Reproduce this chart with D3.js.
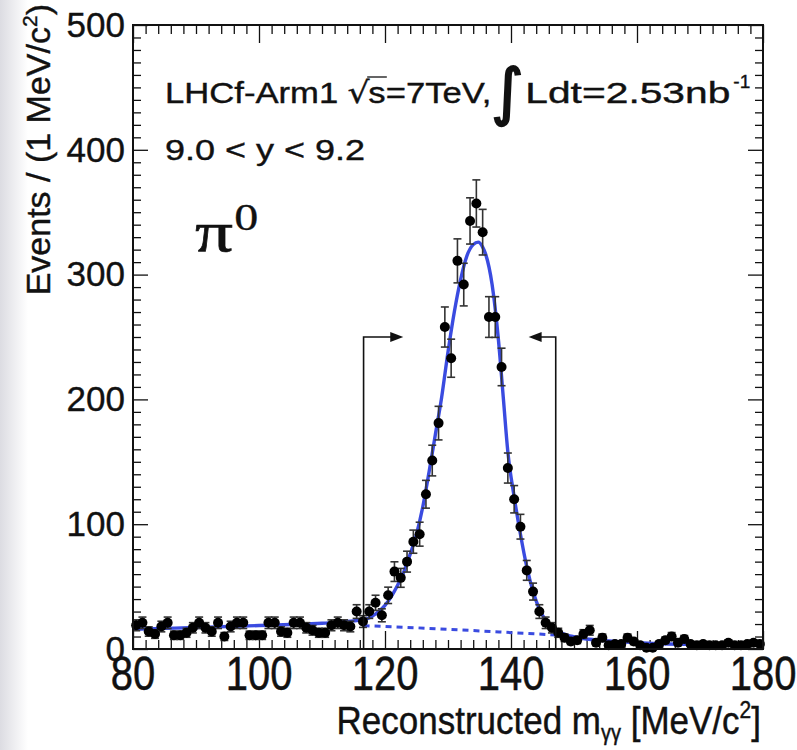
<!DOCTYPE html>
<html>
<head>
<meta charset="utf-8">
<script src="https://cdn.jsdelivr.net/npm/d3@7"></script>
<style>
  body { margin: 0; background: #fff; }
  svg { display: block; font-family: "Liberation Sans", Arial, Helvetica, sans-serif; }
</style>
</head>
<body>
<script>
// ---- data ----
// 1 MeV bins from 80 to 180, bin centres
const binCenters = d3.range(80.5, 180, 1);
// events per bin
const counts = [
  19, 21, 14, 12, 18, 21, 11, 11, 13, 17,   // 80-90
  21, 17, 14, 21, 10, 18, 21, 21, 11, 11,   // 90-100
  11, 21, 21, 14, 13, 21, 21, 17, 15, 13,   // 100-110
  13, 19, 21, 19, 18, 30, 22, 30, 37, 27,   // 110-120
  43, 62, 57, 70, 86, 92, 124, 151, 181, 258, // 120-130
  233, 311, 292, 343, 357, 334, 266, 266, 226, 145, // 130-140
  120, 98, 63, 46, 30, 21, 17, 13, 9, 6,    // 140-150
  7, 12, 15, 5, 9, 3, 4, 4, 9, 6,           // 150-160
  3, 1, 1, 4, 7, 10, 5, 8, 4, 3,            // 160-170
  4, 3, 3, 3, 5, 3, 3, 4, 5, 4              // 170-180
];
// total fit (signal + background)
const fitMass = [80, 85, 90, 95, 100, 105, 110, 113, 115, 117, 119, 120, 121, 122, 123, 124, 125, 126, 127, 128, 129, 130, 131, 132, 133, 134, 134.8, 135.5, 136, 137, 138, 138.8, 139.5, 140.5, 141.5, 142.5, 143.5, 144.5, 145.5, 146.5, 147.5, 149, 150, 152, 155, 160, 165, 170, 175, 180];
const fitValue = [15.8, 16.5, 17.2, 18, 18.8, 19.6, 20.6, 21.5, 22.5, 24, 30, 35, 42, 51, 62, 76, 92, 114, 142, 172, 202, 238, 270, 296, 315, 324, 326, 322, 316, 292, 248, 200, 158, 122, 92, 66, 46, 32, 23, 17, 14, 11, 9.8, 8, 6.7, 5, 4, 3.7, 3.5, 3.5];
// background component, drawn dotted inside the mass window
const bgMass = [116.6, 125, 135, 147.1];
const bgValue = [18.7, 17, 14.5, 11.2];
// signal window and arrows
const windowEdges = [116.6, 147.1];
const arrowLengths = [6.3, 4.3];
const arrowLevel = 250;

const xTicks = [80, 100, 120, 140, 160, 180];
const yTicks = [0, 100, 200, 300, 400, 500];

// ---- layout ----
const W = 797, H = 750;
const pLeft = 133, pRight = 763, pTop = 25, pBottom = 649;
const blue = "#3a4be0";
const ink = "#111";
const sans = "'Liberation Sans', Arial, Helvetica, sans-serif";
const serif = "'Liberation Serif', 'Times New Roman', serif";

const svg = d3.select("body").append("svg").attr("width", W).attr("height", H);

// faint grey strip on the left edge of the original scan
const grad = svg.append("defs").append("linearGradient").attr("id", "edge");
grad.append("stop").attr("offset", "0%").attr("stop-color", "#dcdce2");
grad.append("stop").attr("offset", "100%").attr("stop-color", "#ffffff");
svg.append("rect").attr("x", 0).attr("y", 0).attr("width", 28).attr("height", H).attr("fill", "url(#edge)");

const x = d3.scaleLinear().domain([80, 180]).range([pLeft, pRight]);
const y = d3.scaleLinear().domain([0, 500]).range([pBottom, pTop]);

// ---- axes (ROOT style, ticks inside on all four sides) ----
function tickAxis(axisFn, scale, values, size, tx, ty) {
  const g = svg.append("g").attr("transform", `translate(${tx},${ty})`)
    .call(axisFn(scale).tickValues(values).tickSize(-size).tickFormat(""));
  g.select(".domain").remove();
  g.selectAll(".tick line").attr("stroke", ink).attr("stroke-width", 1.3);
  return g;
}
const xMinor = d3.range(80, 181, 2).filter(v => v % 20 !== 0);
const yMinor = d3.range(0, 501, 10).filter(v => v % 100 !== 0);

tickAxis(d3.axisBottom, x, xTicks, 18, 0, pBottom);
tickAxis(d3.axisBottom, x, xMinor, 9, 0, pBottom);
tickAxis(d3.axisTop, x, xTicks, 18, 0, pTop);
tickAxis(d3.axisTop, x, xMinor, 9, 0, pTop);
tickAxis(d3.axisLeft, y, yTicks, 15, pLeft, 0);
tickAxis(d3.axisLeft, y, yMinor, 8, pLeft, 0);
tickAxis(d3.axisRight, y, yTicks, 15, pRight, 0);
tickAxis(d3.axisRight, y, yMinor, 8, pRight, 0);

// x tick labels (a little taller than wide in the scan)
svg.append("g").selectAll("text").data(xTicks).join("text")
  .attr("transform", d => `translate(${x(d)},690) scale(1,1.2)`)
  .attr("text-anchor", "middle").attr("font-size", 40).attr("font-family", sans)
  .attr("fill", ink).attr("stroke", ink).attr("stroke-width", 0.4)
  .text(d => d);

const yLab = svg.append("g").attr("transform", `translate(${pLeft},0)`)
  .call(d3.axisLeft(y).tickValues(yTicks).tickSize(0).tickPadding(8).tickFormat(d3.format("d")));
yLab.select(".domain").remove();
yLab.selectAll("text").attr("font-size", 35).attr("fill", ink).attr("font-family", sans)
  .attr("stroke", ink).attr("stroke-width", 0.4);

// ---- fit curve ----
const line = d3.line().x(d => x(d[0])).y(d => y(d[1])).curve(d3.curveMonotoneX);
svg.append("path")
  .datum(fitMass.map((m, i) => [m, fitValue[i]]))
  .attr("d", line).attr("fill", "none").attr("stroke", blue).attr("stroke-width", 3.4);

svg.append("path")
  .datum(bgMass.map((m, i) => [m, bgValue[i]]))
  .attr("d", line).attr("fill", "none").attr("stroke", blue).attr("stroke-width", 3)
  .attr("stroke-dasharray", "6,5");

// ---- data points with sqrt(N) error bars ----
const pts = binCenters.map((m, i) => ({ m: m, n: counts[i], e: Math.sqrt(counts[i]) }));
const pg = svg.append("g");
pg.selectAll("line.err").data(pts).join("line").attr("class", "err")
  .attr("x1", d => x(d.m)).attr("x2", d => x(d.m))
  .attr("y1", d => y(d.n - d.e)).attr("y2", d => y(d.n + d.e))
  .attr("stroke", "#333").attr("stroke-width", 1.6);
pg.selectAll("line.capHi").data(pts).join("line").attr("class", "capHi")
  .attr("x1", d => x(d.m) - 4).attr("x2", d => x(d.m) + 4)
  .attr("y1", d => y(d.n + d.e)).attr("y2", d => y(d.n + d.e))
  .attr("stroke", "#333").attr("stroke-width", 1.6);
pg.selectAll("line.capLo").data(pts).join("line").attr("class", "capLo")
  .attr("x1", d => x(d.m) - 4).attr("x2", d => x(d.m) + 4)
  .attr("y1", d => y(Math.max(d.n - d.e, 0))).attr("y2", d => y(Math.max(d.n - d.e, 0)))
  .attr("stroke", "#333").attr("stroke-width", 1.6);
pg.selectAll("circle").data(pts).join("circle")
  .attr("cx", d => x(d.m)).attr("cy", d => y(d.n)).attr("r", 5).attr("fill", "#000");

// ---- signal window markers ----
const arrowDirs = [1, -1];
windowEdges.forEach((m, i) => {
  const dir = arrowDirs[i];
  const x0 = x(m), yA = y(arrowLevel);
  const xTip = x(m + dir * arrowLengths[i]);
  svg.append("path")
    .attr("d", `M${x0},${pBottom} L${x0},${yA} L${xTip - dir * 10},${yA}`)
    .attr("fill", "none").attr("stroke", ink).attr("stroke-width", 1.6);
  svg.append("path")
    .attr("d", `M${xTip},${yA} L${xTip - dir * 13},${yA - 5} L${xTip - dir * 13},${yA + 5} Z`)
    .attr("fill", ink);
});

// frame
svg.append("rect").attr("x", pLeft).attr("y", pTop).attr("width", pRight - pLeft).attr("height", pBottom - pTop)
  .attr("fill", "none").attr("stroke", ink).attr("stroke-width", 2);

// ---- texts ----
// pieces laid out one after another inside a group that may be stretched
function chain(g, x0, yBase, parts) {
  let cx = x0;
  parts.forEach(p => {
    const t = g.append("text")
      .attr("x", cx).attr("y", yBase + (p.dy || 0))
      .attr("font-size", p.size).attr("fill", ink)
      .attr("stroke", ink).attr("stroke-width", p.bold || 0.4)
      .attr("font-family", p.family || sans)
      .text(p.text);
    if (p.len) t.attr("textLength", p.len).attr("lengthAdjust", "spacingAndGlyphs");
    const w = p.len || t.node().getComputedTextLength();
    if (p.over) {
      g.append("line").attr("x1", cx - 1).attr("x2", cx + w + 1)
        .attr("y1", yBase - p.over).attr("y2", yBase - p.over)
        .attr("stroke", ink).attr("stroke-width", 1.3);
    }
    cx += w + (p.gap || 0);
  });
}

const stretch = (x0, sx, sy, yb) => `translate(${x0},${yb}) scale(${sx},${sy}) translate(${-x0},${-yb})`;

// header line: "LHCf-Arm1 sqrt(s)=7TeV," then the integral and the luminosity
const t1 = svg.append("g").attr("transform", stretch(165, 1.155, 1, 103));
chain(t1, 165, 103, [
  { text: "LHCf-Arm1", size: 30, gap: 8 },
  { text: "√", size: 30, family: "'DejaVu Sans', sans-serif", gap: -1 },
  { text: "s", size: 30, over: 26 },
  { text: "=7TeV,", size: 30 }
]);
chain(svg, 491, 103, [
  { text: "∫", size: 62, dy: 10, family: "'DejaVu Sans', sans-serif", gap: 2, bold: 2 },
  { text: "Ldt=2.53nb", size: 30, len: 205, gap: 3 },
  { text: "-1", size: 19, dy: -15 }
]);

const t2 = svg.append("g").attr("transform", stretch(165, 1.2, 1, 160));
chain(t2, 165, 160, [{ text: "9.0 < y < 9.2", size: 30 }]);

// pi0 label
const t3 = svg.append("g").attr("transform", stretch(195, 1.3, 1, 251));
chain(t3, 195, 251, [
  { text: "π", size: 58, family: serif, gap: 1, bold: 0.6 },
  { text: "0", size: 37, dy: -21, family: serif, bold: 0.3 }
]);

// y axis title
const yt = svg.append("text")
  .attr("transform", "translate(50,4) rotate(-90)")
  .attr("text-anchor", "end").attr("font-size", 34).attr("fill", ink)
  .attr("stroke", ink).attr("stroke-width", 0.4);
yt.append("tspan").text("Events / (1 MeV/c");
yt.append("tspan").attr("font-size", 21).attr("dy", -13).text("2");
yt.append("tspan").attr("dy", 13).text(")");

// x axis title
const xt = svg.append("text")
  .attr("transform", "translate(761,734) scale(1,1.12)")
  .attr("text-anchor", "end").attr("font-size", 35).attr("fill", ink)
  .attr("stroke", ink).attr("stroke-width", 0.4);
xt.append("tspan").text("Reconstructed m");
xt.append("tspan").attr("font-size", 20).attr("dy", 5).text("γγ");
xt.append("tspan").attr("dy", -5).text(" [MeV/c");
xt.append("tspan").attr("font-size", 21).attr("dy", -14).text("2");
xt.append("tspan").attr("dy", 14).text("]");
</script>
</body>
</html>
